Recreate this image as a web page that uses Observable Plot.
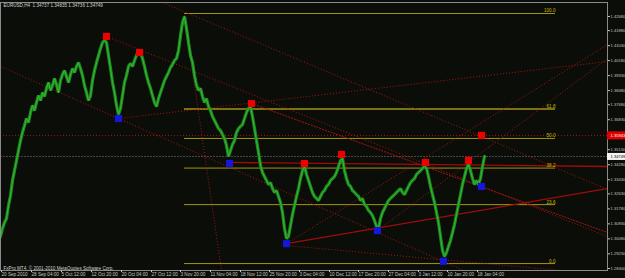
<!DOCTYPE html>
<html>
<head>
<meta charset="utf-8">
<script src="https://cdn.jsdelivr.net/npm/d3@7"></script>
<script src="https://cdn.jsdelivr.net/npm/@observablehq/plot@0.6"></script>
<style>
html,body{margin:0;padding:0;background:#0b0e08;overflow:hidden;}
</style>
</head>
<body>
<div id="chart"></div>
<script>
// ---- data ----
const symbolLine = "EURUSD,H4  1.34737 1.34835 1.34736 1.34749";
const copyright = "FxPro MT4, \u00a9 2001-2010 MetaQuotes Software Corp.";

// closing prices, one sample every 2 bars starting at bar 0
const closes = [
1.3021,1.3067,1.3101,1.3123,1.3197,1.3254,1.3339,1.3395,1.3452,1.3509,
1.3565,1.3611,1.3650,1.3690,1.3667,1.3724,1.3764,1.3735,1.3781,1.3820,
1.3792,1.3837,1.3815,1.3860,1.3894,1.3849,1.3877,1.3917,1.3883,1.3837,
1.3905,1.3939,1.3962,1.3928,1.3894,1.3939,1.3973,1.3951,1.3985,1.4007,
1.3973,1.3934,1.3877,1.3837,1.3792,1.3820,1.3905,1.3962,1.4007,1.4047,
1.4087,1.4121,1.4132,1.4121,1.4047,1.3973,1.3894,1.3837,1.3764,1.3713,
1.3747,1.3820,1.3894,1.3934,1.3985,1.4002,1.3985,1.4019,1.4047,1.4075,
1.4064,1.4030,1.3985,1.3934,1.3894,1.3860,1.3820,1.3781,1.3758,1.3803,
1.3837,1.3871,1.3905,1.3928,1.3951,1.3979,1.3996,1.4019,1.4030,1.4075,
1.4160,1.4234,1.4268,1.4200,1.4121,1.4047,1.4007,1.3934,1.3877,1.3849,
1.3860,1.3815,1.3781,1.3803,1.3758,1.3735,1.3701,1.3679,1.3656,1.3633,
1.3622,1.3599,1.3577,1.3537,1.3475,1.3509,1.3543,1.3565,1.3611,1.3633,
1.3645,1.3656,1.3690,1.3724,1.3747,1.3758,1.3701,1.3633,1.3565,1.3497,
1.3424,1.3384,1.3361,1.3339,1.3316,1.3327,1.3293,1.3271,1.3282,1.3248,
1.3214,1.3157,1.3067,1.3010,1.3021,1.3084,1.3146,1.3197,1.3248,1.3293,
1.3350,1.3395,1.3418,1.3373,1.3339,1.3305,1.3271,1.3248,1.3237,1.3225,
1.3248,1.3271,1.3282,1.3305,1.3316,1.3339,1.3350,1.3361,1.3384,1.3418,
1.3452,1.3463,1.3395,1.3350,1.3316,1.3305,1.3282,1.3271,1.3259,1.3248,
1.3225,1.3237,1.3203,1.3191,1.3169,1.3157,1.3140,1.3112,1.3078,1.3067,
1.3123,1.3157,1.3180,1.3203,1.3225,1.3237,1.3248,1.3259,1.3271,1.3282,
1.3293,1.3271,1.3259,1.3282,1.3305,1.3327,1.3339,1.3350,1.3373,1.3384,
1.3395,1.3407,1.3418,1.3407,1.3361,1.3305,1.3259,1.3214,1.3157,1.3101,
1.3021,1.2942,1.2908,1.2930,1.2965,1.2999,1.3044,1.3089,1.3146,1.3203,
1.3259,1.3316,1.3361,1.3407,1.3429,1.3395,1.3350,1.3316,1.3339,1.3316,
1.3350,1.3418,1.3475
];

// fractal markers
const redBars  = [106, 139, 251, 304, 341, 425, 468, 481];
const redP     = [1.4155, 1.4064, 1.3775, 1.3435, 1.3486, 1.3441, 1.3452, 1.35943];
const blueBars = [118, 229, 286, 377, 443, 481];
const blueP    = [1.3690, 1.3435, 1.2981, 1.3055, 1.2881, 1.3305];

// Fibonacci retracement
const fibLabels = ["100.0", "61.8", "50.0", "38.2", "23.6", "0.0"];
const fibPrices = [1.4285, 1.3744, 1.3577, 1.3409, 1.3202, 1.2868];
const fibFromBar = 184, fibToBar = 555;

// trend lines
const lineX1   = [106, 157, 118, 0, 286, 377, 286, 229, 251, 184, 286];
const lineP1   = [1.4155, 1.4359, 1.3690, 1.3985, 1.2981, 1.3055, 1.2981, 1.3441, 1.3775, 1.4274, 1.2970];
const lineX2   = [607, 607, 607, 463, 607, 607, 607, 607, 607, 221, 560];
const lineP2   = [1.3021, 1.3288, 1.4013, 1.2829, 1.4109, 1.4030, 1.3293, 1.3418, 1.3044, 1.2829, 1.2829];
const lineKind = ["dot","dot","dot","dot","dot","dot","solid","solid","dash","dot","dot"];

const alertPrice = 1.35943;
const bidPrice = 1.34749;

// axes
const priceTicks = [1.28400,1.29230,1.30080,1.30930,1.31780,1.32630,1.33430,1.34280,1.35130,
                    1.36830,1.37680,1.38480,1.39330,1.40180,1.41030,1.41880,1.42680];
const timeBars = [0, 30, 60, 90, 120, 150, 179, 209, 239, 268, 298, 328, 357, 387, 417, 446, 476];
const timeLabels = ["20 Sep 2010","28 Sep 04:00","5 Oct 12:00","12 Oct 20:00","20 Oct 04:00",
  "27 Oct 12:00","3 Nov 20:00","11 Nov 04:00","18 Nov 12:00","25 Nov 20:00","3 Dec 04:00",
  "10 Dec 12:00","17 Dec 20:00","27 Dec 04:00","3 Jan 12:00","10 Jan 20:00","18 Jan 04:00"];
const xDomain = [0, 607];
const yDomain = [1.28287, 1.43473];

// ---- build ----
const series = closes.map((p, i) => ({bar: i * 2, p}));
const reds = redBars.map((x, i) => ({x, p: redP[i]}));
const blues = blueBars.map((x, i) => ({x, p: blueP[i]}));
const fib = fibLabels.map((l, i) => ({l, p: fibPrices[i]}));
const lines = lineX1.map((x1, i) => ({x1, y1: lineP1[i], x2: lineX2[i], y2: lineP2[i], kind: lineKind[i]}));
const labelOf = new Map(timeBars.map((b, i) => [b, timeLabels[i]]));
const fmt = d3.format(".5f");
const red = "#a81212";

const chart = Plot.plot({
  width: 625, height: 278,
  marginTop: 2, marginBottom: 8, marginLeft: 0, marginRight: 18,
  x: {domain: xDomain},
  y: {domain: yDomain},
  style: {background: "#0b0e08", color: "#c4c4c4", fontFamily: "Liberation Sans, Arial, sans-serif"},
  marks: [
    Plot.ruleY([bidPrice], {y: d => d, stroke: "#4a4a4a", strokeDasharray: "2,1"}),
    Plot.ruleY([alertPrice], {y: d => d, stroke: red, strokeDasharray: "1,2"}),
    Plot.ruleY(fib, {y: "p", x1: () => fibFromBar, x2: () => fibToBar, stroke: "#a39414", strokeWidth: d => d.l === "61.8" ? 1.6 : 1}),
    Plot.link(lines.filter(d => d.kind === "dot"), {x1: "x1", y1: "y1", x2: "x2", y2: "y2", stroke: red, strokeDasharray: "1,2", clip: true}),
    Plot.link(lines.filter(d => d.kind === "dash"), {x1: "x1", y1: "y1", x2: "x2", y2: "y2", stroke: red, strokeDasharray: "2,1", clip: true}),
    Plot.link(lines.filter(d => d.kind === "solid"), {x1: "x1", y1: "y1", x2: "x2", y2: "y2", stroke: "#9e0c0c", strokeWidth: 1.3, clip: true}),
    Plot.line(series, {x: "bar", y: "p", stroke: "#1c8a1c", strokeWidth: 3.2, strokeLinejoin: "miter"}),
    Plot.line(series, {x: "bar", y: "p", stroke: "#38b838", strokeWidth: 1}),
    Plot.dot(reds, {x: "x", y: "p", symbol: "square", r: 4, fill: "#ee0000"}),
    Plot.dot(blues, {x: "x", y: "p", symbol: "square", r: 4, fill: "#1515dd"}),
    Plot.text(fib, {x: () => fibToBar, y: "p", text: "l", textAnchor: "end", lineAnchor: "bottom", dy: -1, fill: "#c9b800", fontSize: 4.6}),
    Plot.frame({stroke: "#8a8a8a"}),
    Plot.axisY({anchor: "right", ticks: priceTicks, tickFormat: fmt, tickSize: 2, tickPadding: 1, fontSize: 4.1}),
    Plot.axisX({anchor: "bottom", ticks: timeBars, tickFormat: d => labelOf.get(d), tickSize: 2, tickPadding: 0, textAnchor: "start", dx: 1, fontSize: 4.6}),
    Plot.ruleY([alertPrice], {y: d => d, x1: () => xDomain[1], x2: () => xDomain[1] + 20, stroke: "#e00000", strokeWidth: 8}),
    Plot.text([alertPrice], {y: d => d, text: d => fmt(d), frameAnchor: "right", dx: 3, textAnchor: "start", fill: "#ffffff", fontSize: 4.1}),
    Plot.ruleY([bidPrice], {y: d => d, x1: () => xDomain[1], x2: () => xDomain[1] + 20, stroke: "#f4f4f4", strokeWidth: 7}),
    Plot.text([bidPrice], {y: d => d, text: d => fmt(d), frameAnchor: "right", dx: 3, textAnchor: "start", fill: "#000000", fontSize: 4.1}),
    Plot.text([symbolLine], {frameAnchor: "top-left", dx: 3, dy: 1, lineAnchor: "top", fill: "#d0d0d0", fontSize: 4.6}),
    Plot.text([copyright], {frameAnchor: "bottom-left", dx: 3, dy: -1, lineAnchor: "bottom", fill: "#d0d0d0", fontSize: 4.6})
  ]
});
document.getElementById("chart").appendChild(chart);
</script>
</body>
</html>
